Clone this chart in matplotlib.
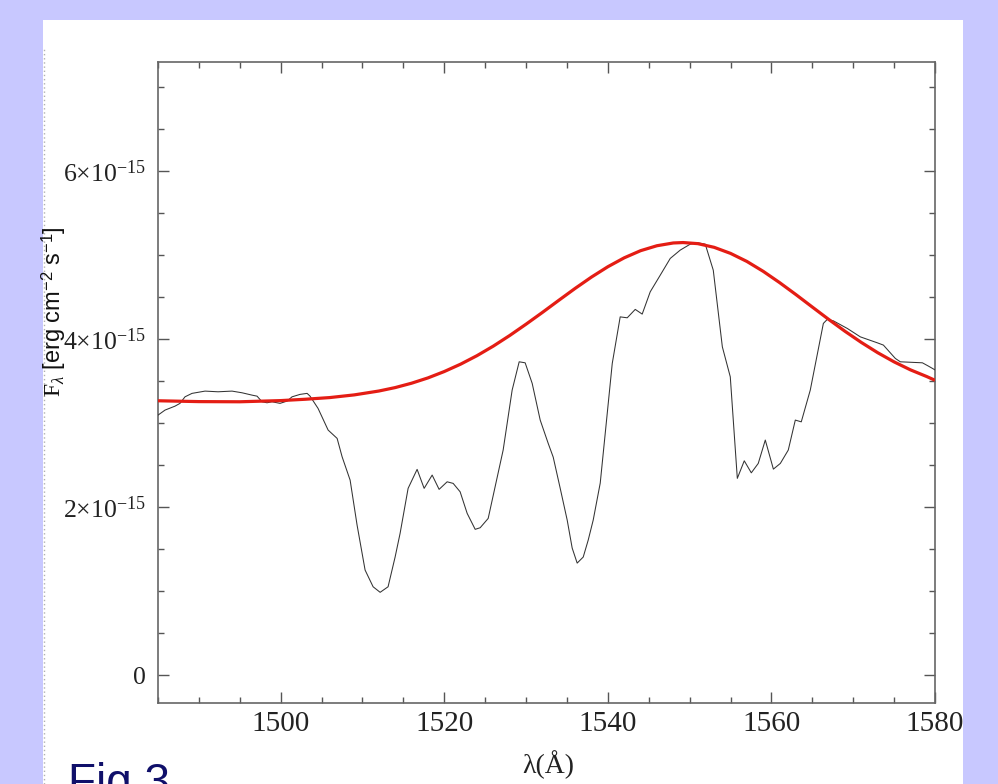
import matplotlib
matplotlib.use("Agg")
import matplotlib.pyplot as plt
from matplotlib.ticker import MultipleLocator
from matplotlib.patches import Rectangle
from matplotlib.lines import Line2D

# ---- data (flux in units of 1e-15 erg cm^-2 s^-1 A^-1) ----
obs_wave = [1485.00, 1485.86, 1487.08, 1487.69, 1488.30, 1489.16, 1490.75, 1492.34, 1494.05,
            1495.28, 1496.50, 1497.11, 1497.72, 1498.33, 1498.94, 1499.92, 1500.78, 1501.39,
            1502.37, 1503.23, 1503.59, 1504.57, 1505.80, 1506.90, 1507.51, 1508.49, 1509.34,
            1510.32, 1511.30, 1512.16, 1513.13, 1513.99, 1514.60, 1515.58, 1516.68, 1517.54,
            1518.52, 1519.37, 1520.35, 1521.09, 1521.94, 1522.80, 1523.78, 1524.39, 1525.37,
            1527.20, 1528.30, 1529.16, 1529.89, 1530.75, 1531.73, 1532.71, 1533.32, 1534.17,
            1535.03, 1535.64, 1536.25, 1536.99, 1537.60, 1538.21, 1539.07, 1540.54, 1541.51,
            1542.37, 1543.35, 1544.20, 1545.18, 1546.41, 1547.63, 1548.85, 1550.08, 1551.06,
            1551.91, 1552.89, 1554.00, 1554.97, 1555.83, 1556.68, 1557.54, 1558.39, 1559.25,
            1560.24, 1561.09, 1562.06, 1562.92, 1563.65, 1564.75, 1566.35, 1566.83, 1567.57,
            1569.28, 1570.87, 1572.95, 1573.69, 1575.15, 1575.76, 1578.46, 1579.19, 1580.05]
obs_flux = [3.095, 3.155, 3.202, 3.235, 3.313, 3.354, 3.381, 3.373, 3.381,
            3.361, 3.333, 3.321, 3.254, 3.242, 3.254, 3.235, 3.262, 3.313,
            3.342, 3.354, 3.321, 3.175, 2.917, 2.818, 2.599, 2.321, 1.786,
            1.250, 1.051, 0.985, 1.051, 1.405, 1.687, 2.223, 2.449, 2.223,
            2.381, 2.211, 2.301, 2.282, 2.182, 1.925, 1.735, 1.754, 1.865,
            2.679, 3.393, 3.730, 3.718, 3.473, 3.036, 2.758, 2.595, 2.226,
            1.845, 1.512, 1.333, 1.405, 1.607, 1.845, 2.286, 3.711, 4.265,
            4.254, 4.354, 4.298, 4.563, 4.762, 4.961, 5.060, 5.131, 5.146,
            5.131, 4.821, 3.908, 3.551, 2.342, 2.551, 2.408, 2.520, 2.798,
            2.452, 2.520, 2.679, 3.036, 3.015, 3.393, 4.187, 4.235, 4.218,
            4.127, 4.027, 3.956, 3.929, 3.770, 3.730, 3.718, 3.679, 3.631]

fit_wave = [1485, 1490, 1495, 1500, 1503, 1506, 1509, 1512, 1514, 1516, 1518, 1520,
            1522, 1524, 1526, 1528, 1530, 1532, 1534, 1536, 1538, 1540, 1542, 1544,
            1546, 1548, 1549.2, 1551, 1553, 1555, 1557, 1559, 1561, 1563, 1565, 1567,
            1569, 1571, 1573, 1575, 1577, 1579, 1580]
fit_flux = [3.266, 3.256, 3.254, 3.268, 3.284, 3.304, 3.336, 3.382, 3.423, 3.475, 3.538, 3.614,
            3.702, 3.803, 3.917, 4.043, 4.178, 4.318, 4.462, 4.604, 4.739, 4.862, 4.968, 5.053,
            5.112, 5.145, 5.150, 5.137, 5.093, 5.021, 4.925, 4.807, 4.673, 4.530, 4.382, 4.235,
            4.093, 3.960, 3.838, 3.729, 3.634, 3.554, 3.510]

SCALE = 1e-15
yticks = [0, 2, 4, 6]
ytick_labels = ["0", r"$2{\times}10^{-15}$", r"$4{\times}10^{-15}$", r"$6{\times}10^{-15}$"]
xticks = [1500, 1520, 1540, 1560, 1580]

plt.rcParams['mathtext.fontset'] = 'custom'
plt.rcParams['mathtext.rm'] = 'Liberation Serif'
plt.rcParams['mathtext.it'] = 'Liberation Serif:italic'
plt.rcParams['mathtext.sf'] = 'Liberation Sans'
plt.rcParams['font.family'] = ['Liberation Sans', 'DejaVu Sans']

W, H = 998, 784
fig = plt.figure(figsize=(W / 100, H / 100), dpi=100, facecolor='#c8c8ff')

# white slide panel (behind the axes)
fig.patches.append(Rectangle((43 / W, 0), (963 - 43) / W, (H - 20) / H,
                             transform=fig.transFigure, facecolor='white',
                             edgecolor='none', zorder=-10))
fig.lines.append(Line2D([44 / W, 44 / W], [0, (H - 48) / H], transform=fig.transFigure,
                        color='#b0b0b0', lw=1.0, ls=(0, (1, 2)), zorder=-9))

ax = fig.add_axes([158 / W, (H - 703) / H, (935 - 158) / W, (703 - 62) / H], zorder=5)
ax.set_facecolor('white')

ax.plot(obs_wave, [v * SCALE for v in obs_flux], color='#333333', lw=0.75, zorder=3)
ax.plot(fit_wave, [v * SCALE for v in fit_flux], color='#e41d14', lw=2.3, zorder=4,
        solid_capstyle='butt', solid_joinstyle='round')

ax.set_xlim(1485, 1580)
ax.set_ylim(-0.333 * SCALE, 7.30 * SCALE)

ax.set_xticks(xticks)
ax.xaxis.set_minor_locator(MultipleLocator(5))
ax.set_yticks([t * SCALE for t in yticks])
ax.set_yticklabels(ytick_labels)
ax.yaxis.set_minor_locator(MultipleLocator(0.5 * SCALE))

for s in ax.spines.values():
    s.set_color('#666666')
    s.set_linewidth(1.2)

ax.tick_params(which='both', direction='in', top=True, right=True, color='#555555', width=1.0)
ax.tick_params(which='major', length=8)
ax.tick_params(which='minor', length=4.5)
ax.tick_params(axis='x', which='major', labelsize=21, pad=6, labelcolor='#222222')
ax.tick_params(axis='y', which='major', labelsize=18.5, pad=9, labelcolor='#222222')
for lab in ax.get_xticklabels():
    lab.set_family('Liberation Serif')
for lab in ax.get_yticklabels():
    lab.set_family('Liberation Serif')

fig.text(54 / W, 1 - 312 / H,
         r"$\mathrm{F}_{\lambda}$ [erg cm$^{\mathsf{-2}}$ s$^{\mathsf{-1}}$]",
         rotation=90, ha='center', va='center', fontsize=17, color='#111111')
fig.text(548 / W, 1 - 765 / H, "λ(Å)", ha='center', va='center', fontsize=20,
         family='Liberation Serif', color='#222222')
fig.text(68 / W, 1 - 796 / H, "Fig 3", ha='left', va='baseline', fontsize=33,
         color='#10106a', family='Liberation Sans')

fig.savefig('out.png', dpi=100, facecolor=fig.get_facecolor())
